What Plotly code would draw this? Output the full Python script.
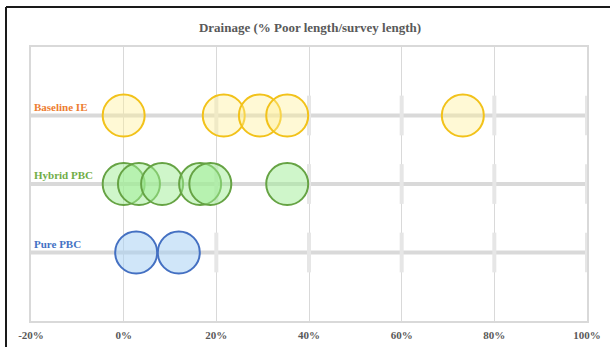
import plotly.graph_objects as go

# Drainage results: % poor length / survey length, per pavement strategy
categories = ["Baseline IE", "Hybrid PBC", "Pure PBC"]
row_pos = [3, 2, 1]
baseline_ie = [0.0, 21.6, 29.4, 35.3, 73.2]
hybrid_pbc = [0.0, 3.3, 8.3, 16.5, 18.7, 35.3]
pure_pbc = [2.7, 11.9]
x_ticks = [-20, 0, 20, 40, 60, 80, 100]
cap_ticks = [20, 40, 60, 80, 100]

label_colors = ["#ED7D31", "#70AD47", "#4472C4"]
fills = ["rgba(255,240,150,0.40)", "rgba(160,238,150,0.50)", "rgba(165,208,244,0.52)"]
edges = ["#F2C21A", "#66A344", "#4470C2"]
series = [baseline_ie, hybrid_pbc, pure_pbc]

W, H = 610, 347
L, R, T, B = 31, 23, 47, 26
GRID = "#d9d9d9"
TXT = "#595959"
FONT = "Liberation Serif"

fig = go.Figure()

# row baselines across the full axis
for y in row_pos:
    fig.add_trace(go.Scatter(
        x=[x_ticks[0], x_ticks[-1]], y=[y, y], mode="lines",
        line=dict(color=GRID, width=4), hoverinfo="skip", showlegend=False))

# short cap marks on each row
cx, cy = [], []
for y in row_pos:
    for t in cap_ticks:
        cx += [t, t, None]
        cy += [y - 0.29, y + 0.29, None]
fig.add_trace(go.Scatter(
    x=cx, y=cy, mode="lines", line=dict(color="#e6e6e6", width=4),
    hoverinfo="skip", showlegend=False))

# bubbles
for vals, y, fc, ec, name in zip(series, row_pos, fills, edges, categories):
    fig.add_trace(go.Scatter(
        x=vals, y=[y] * len(vals), mode="markers", name=name,
        marker=dict(size=42, color=fc, line=dict(color=ec, width=2)),
        showlegend=False))

# row labels above each line
for name, y, c in zip(categories, row_pos, label_colors):
    fig.add_annotation(
        x=x_ticks[0], y=y, xref="x", yref="y", text=f"<b>{name}</b>",
        showarrow=False, xanchor="left", yanchor="bottom", xshift=1, yshift=1,
        font=dict(family=FONT, size=11, color=c))

# outer chart frame
pw, ph = W - L - R, H - T - B
fig.add_shape(type="line", xref="paper", yref="paper",
              x0=(6 - L) / pw, x1=(W + 10 - L) / pw,
              y0=(H - B - 7) / ph, y1=(H - B - 7) / ph,
              line=dict(color="#1a1a1a", width=2))
fig.add_shape(type="line", xref="paper", yref="paper",
              x0=(6 - L) / pw, x1=(6 - L) / pw,
              y0=(H - B - 7) / ph, y1=-0.3,
              line=dict(color="#1a1a1a", width=2))

fig.update_layout(
    width=W, height=H,
    margin=dict(l=L, r=R, t=T, b=B, autoexpand=False),
    paper_bgcolor="white", plot_bgcolor="white",
    title=dict(text="<b>Drainage (% Poor length/survey length)</b>",
               x=310 / W, xanchor="center", y=1 - 27 / H, yanchor="middle",
               font=dict(family=FONT, size=13, color=TXT)),
    xaxis=dict(range=[x_ticks[0], x_ticks[-1]], tickvals=x_ticks,
               ticktext=[f"<b>{t}%</b>" for t in x_ticks],
               showgrid=True, gridcolor=GRID, gridwidth=1, zeroline=False,
               showline=True, linecolor=GRID, linewidth=1.5, mirror=True,
               ticks="", ticklabelstandoff=3, automargin=False,
               tickfont=dict(family=FONT, size=11, color=TXT)),
    yaxis=dict(range=[0, 4], showticklabels=False, showgrid=False,
               zeroline=False, showline=True, linecolor=GRID, linewidth=1.5,
               mirror=True, ticks="", automargin=False),
)

fig.write_html("out.html")
